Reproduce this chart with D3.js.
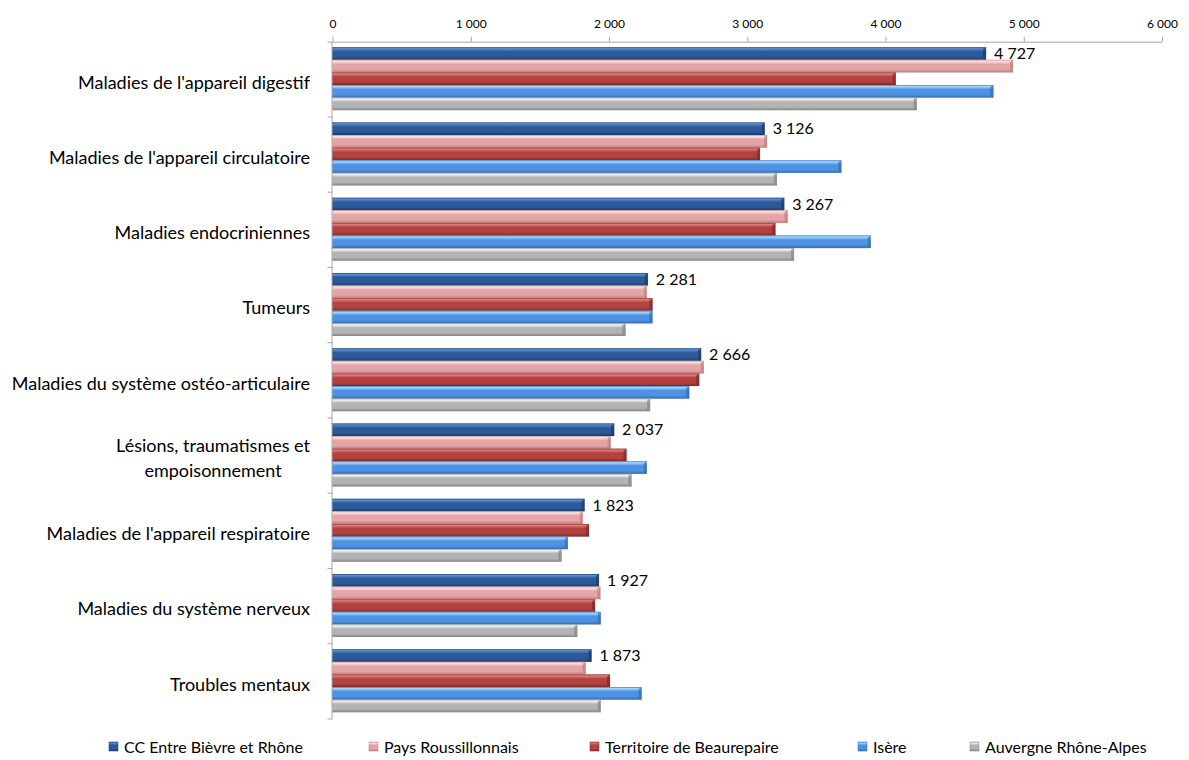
<!DOCTYPE html>
<html>
<head>
<meta charset="utf-8">
<script src="https://cdn.jsdelivr.net/npm/d3@7"></script>
<style>
  body { margin: 0; background: #fff; }
  svg text { font-family: Lato, "Open Sans", sans-serif; fill: #000; }
</style>
</head>
<body>
<svg id="chart" width="1189" height="760"></svg>
<script>
const categories = [
  "Maladies de l'appareil digestif",
  "Maladies de l'appareil circulatoire",
  "Maladies endocriniennes",
  "Tumeurs",
  "Maladies du système ostéo-articulaire",
  "Lésions, traumatismes et\nempoisonnement",
  "Maladies de l'appareil respiratoire",
  "Maladies du système nerveux",
  "Troubles mentaux"
];
const seriesNames = ["CC Entre Bièvre et Rhône", "Pays Roussillonnais", "Territoire de Beaurepaire", "Isère", "Auvergne Rhône-Alpes"];

const ccValues        = [4727, 3126, 3267, 2281, 2666, 2037, 1823, 1927, 1873];
const paysValues      = [4922, 3143, 3292, 2273, 2685, 2012, 1810, 1937, 1831];
const beaurepaireVals = [4074, 3092, 3203, 2314, 2652, 2126, 1855, 1899, 2007];
const isereValues     = [4780, 3680, 3893, 2314, 2580, 2273, 1702, 1940, 2236];
const araValues       = [4226, 3214, 3338, 2119, 2297, 2162, 1656, 1770, 1940];
const xTicks = [0, 1000, 2000, 3000, 4000, 5000, 6000];

// gradient stops per series: top highlight, main, bottom shade
const palettes = [
  ["#5b8ccc", "#2c5a98", "#1b3b68"],
  ["#fde3e3", "#e3a5a5", "#bf7f7f"],
  ["#e07c7a", "#b2413f", "#7e2a29"],
  ["#a4d8ff", "#4f92e2", "#376cb4"],
  ["#f4f4f4", "#b3b3b3", "#858585"]
];

const allSeries = [ccValues, paysValues, beaurepaireVals, isereValues, araValues];

const svg = d3.select("#chart");
const margin = {top: 41.7, left: 332.5, right: 1162, bottom: 719};

const x = d3.scaleLinear().domain([0, 6000]).range([margin.left, margin.right]);
const y0 = d3.scaleBand().domain(categories).range([margin.top, margin.bottom]);
const y1 = d3.scaleBand().domain(seriesNames).range([5.5, 68.5]);

const locale = d3.formatLocale({decimal: ",", thousands: "\u00a0", grouping: [3]});
const fmt = locale.format(",d");

const defs = svg.append("defs");
palettes.forEach((p, i) => {
  const g = defs.append("linearGradient")
    .attr("id", "grad" + i)
    .attr("x1", 0).attr("y1", 0).attr("x2", 0).attr("y2", 1);
  g.append("stop").attr("offset", "0%").attr("stop-color", p[1]);
  g.append("stop").attr("offset", "12%").attr("stop-color", p[0]);
  g.append("stop").attr("offset", "35%").attr("stop-color", p[1]);
  g.append("stop").attr("offset", "75%").attr("stop-color", p[1]);
  g.append("stop").attr("offset", "100%").attr("stop-color", p[2]);
});

// top axis
const xAxis = d3.axisTop(x)
  .tickValues(xTicks)
  .tickSize(5)
  .tickFormat(d => fmt(d));

const gx = svg.append("g")
  .attr("transform", `translate(0,${margin.top})`)
  .call(xAxis);
gx.select(".domain").attr("stroke", "#a6a6a6").attr("d", `M${margin.left - 5},0.5H${margin.right}`);
gx.selectAll(".tick line").attr("stroke", "#a6a6a6");
gx.selectAll(".tick text")
  .attr("font-size", "12px")
  .attr("dy", "-6px")
  .style("font-family", "Lato, sans-serif");

// left axis line with category boundary ticks
const gy = svg.append("g");
gy.append("line")
  .attr("x1", margin.left - 0.5).attr("x2", margin.left - 0.5)
  .attr("y1", margin.top).attr("y2", margin.bottom)
  .attr("stroke", "#a6a6a6");
gy.selectAll("line.tk")
  .data(categories)
  .enter()
  .append("line")
  .attr("class", "tk")
  .attr("x1", margin.left - 5).attr("x2", margin.left)
  .attr("y1", d => y0(d) + y0.bandwidth())
  .attr("y2", d => y0(d) + y0.bandwidth())
  .attr("stroke", "#a6a6a6");

// category labels
const labelRight = 310;
const labels = svg.append("g")
  .selectAll("text")
  .data(categories)
  .enter()
  .append("text")
  .attr("text-anchor", "end")
  .attr("font-size", "18px")
  .attr("x", labelRight);

labels.each(function (d) {
  const lines = d.split("\n");
  const t = d3.select(this);
  const c = y0(d) + y0.bandwidth() / 2 + 3;
  if (lines.length === 1) {
    t.attr("y", c).attr("dy", "0.35em").text(d);
  } else {
    const spans = lines.map((l, i) => t.append("tspan")
      .attr("text-anchor", "middle")
      .attr("y", c + (i - 0.5) * 25)
      .attr("dy", "0.35em")
      .text(l));
    const maxW = d3.max(spans, s => s.node().getComputedTextLength());
    spans.forEach(s => s.attr("x", labelRight - maxW / 2));
  }
});

// bars
const groups = svg.append("g")
  .selectAll("g")
  .data(categories)
  .enter()
  .append("g")
  .attr("transform", d => `translate(0,${y0(d)})`);

groups.selectAll("g.bar")
  .data((d, ci) => seriesNames.map((s, si) => ({s, si, v: allSeries[si][ci]})))
  .enter()
  .append("g")
  .attr("class", "bar")
  .each(function (d) {
    const g = d3.select(this);
    const h = y1.bandwidth();
    const top = y1(d.s);
    const w = x(d.v) - x(0);
    g.append("rect")
      .attr("x", x(0))
      .attr("y", top)
      .attr("width", w)
      .attr("height", h)
      .attr("fill", `url(#grad${d.si})`);
    // bevelled end
    g.append("path")
      .attr("d", `M${x(d.v) - 3},${top + 2}L${x(d.v)},${top}V${top + h}L${x(d.v) - 3},${top + h - 2}Z`)
      .attr("fill", palettes[d.si][2])
      .attr("opacity", 0.7);
    g.append("rect")
      .attr("x", x(0))
      .attr("y", top + 0.25)
      .attr("width", w)
      .attr("height", h - 0.5)
      .attr("fill", "none")
      .attr("stroke", palettes[d.si][2])
      .attr("stroke-opacity", 0.5)
      .attr("stroke-width", 0.5);
  });

// value labels for first series
groups.append("text")
  .attr("font-size", "16px")
  .attr("x", (d, i) => x(ccValues[i]) + 8)
  .attr("y", y1(seriesNames[0]) + y1.bandwidth() / 2)
  .attr("dy", "0.35em")
  .text((d, i) => fmt(ccValues[i]));

// legend
const legendX = [109, 369, 590, 858, 970];
const legend = svg.append("g")
  .selectAll("g")
  .data(seriesNames)
  .enter()
  .append("g")
  .attr("transform", (d, i) => `translate(${legendX[i]},747)`);

legend.append("rect")
  .attr("x", 0).attr("y", -5)
  .attr("width", 9).attr("height", 9)
  .attr("fill", (d, i) => `url(#grad${i})`)
  .attr("stroke", (d, i) => palettes[i][2])
  .attr("stroke-width", 0.5);

legend.append("text")
  .attr("x", 15)
  .attr("y", 0)
  .attr("dy", "0.35em")
  .attr("font-size", "16px")
  .text(d => d);
</script>
</body>
</html>
